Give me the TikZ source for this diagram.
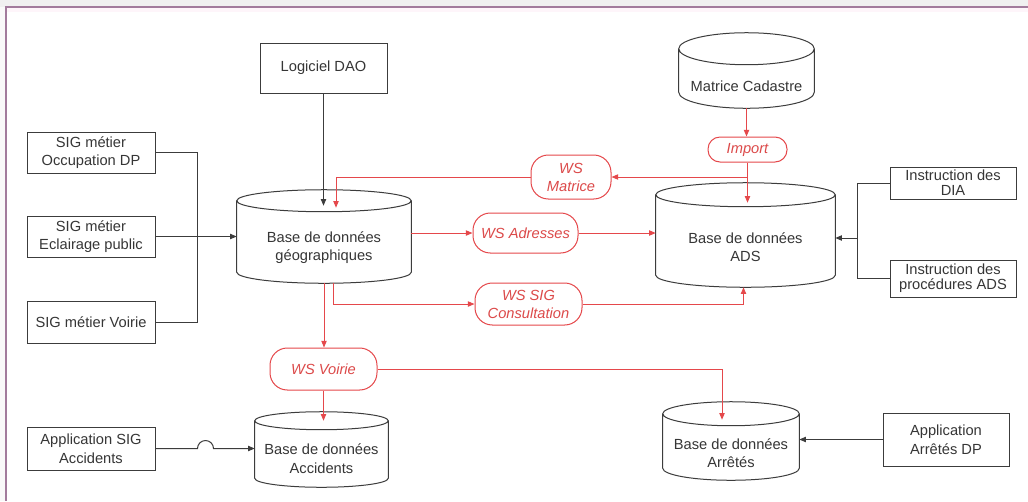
\documentclass[tikz,border=0pt]{standalone}
\usepackage{fontspec}
\setmainfont{Liberation Sans}
\usetikzlibrary{arrows.meta,calc}
\definecolor{lnred}{HTML}{E5484B}
\definecolor{txred}{HTML}{DC4A4A}
\definecolor{lngray}{HTML}{3C3C3C}
\definecolor{txgray}{HTML}{363636}
\definecolor{framecol}{HTML}{A27B9C}
\newcommand\dbout[2]{%
  \draw[bln] let \p1=(#1.north west), \p2=(#1.south east),
    \n1={(\x2-\x1)/2}, \n2={#2pt} in
    ({(\x1+\x2)/2},{\y1+\n2}) ellipse[x radius=\n1, y radius=\n2]
    (\x1,{\y1+\n2}) -- (\x1,{\y2+\n2})
    arc[start angle=180, end angle=360, x radius=\n1, y radius=\n2]
    -- (\x2,{\y1+\n2});}
\begin{document}
\begin{tikzpicture}[x=0.75pt,y=-0.75pt,
  font=\fontsize{11}{14}\selectfont,
  sz/.style 2 args={minimum width={#1*0.75pt}, minimum height={#2*0.75pt}},
  box/.style={draw=lngray, line width=0.75pt, fill=white, text=txgray, align=center, inner sep=0pt},
  dbn/.style={inner sep=0pt, text=txgray, align=center},
  ws/.style={draw=lnred, line width=0.75pt, rounded corners=13pt, text=txred,
    font=\fontsize{11}{13.5}\selectfont\itshape, align=center, inner sep=0pt, fill=white},
  bln/.style={draw=lngray, line width=0.75pt},
  rln/.style={draw=lnred, line width=0.75pt},
  tip/.style={-{Triangle[length=5pt,width=4pt]}},
]
\useasboundingbox (0,0) rectangle (1028,501);
\fill[white] (0,0) rectangle (1028,501);
\fill[gray!12] (0,0) rectangle (1028,7);
\fill[gray!5] (0,7) rectangle (6,501);
\fill[magenta!4] (6,7) rectangle (1028,12);
\draw[framecol, line width=1pt] (1028,7) -- (6,7) -- (6,501);

% rectangular boxes
\node[box, sz={127}{50}] (dao) at (323.5,68) {Logiciel DAO};
\node[box, sz={128}{41}] (occ) at (91,152.5) {SIG métier\\Occupation DP};
\node[box, sz={128}{41}] (ecl) at (91,236.5) {SIG métier\\Eclairage public};
\node[box, sz={128}{42}] (voi) at (91,322) {SIG métier Voirie};
\node[box, sz={128}{43}] (aac) at (91,448.5) {Application SIG\\Accidents};
\node[box, sz={126}{32}, font=\fontsize{11}{11.5}\selectfont] (dia) at (953,183) {Instruction des\\DIA};
\node[box, sz={126}{37}, font=\fontsize{11}{11.5}\selectfont] (proc) at (953,278.5) {Instruction des\\procédures ADS};
\node[box, sz={126}{53}] (aar) at (946,439.5) {Application\\Arrêtés DP};

% databases
\node[dbn, sz={174}{71}] (geo) at (324,247.5) {Base de données\\géographiques};
\node[dbn, sz={135}{43}] (mat) at (746.5,86.5) {Matrice Cadastre};
\node[dbn, sz={179}{80}] (ads) at (745.5,247) {Base de données\\ADS};
\node[dbn, sz={133}{57}] (acc) at (321.5,458.5) {Base de données\\Accidents};
\node[dbn, sz={136}{54}] (arr) at (731,453) {Base de données\\Arrêtés};
\dbout{geo}{8.25}
\dbout{mat}{12}
\dbout{ads}{9}
\dbout{acc}{6.75}
\dbout{arr}{9}

% web services
\node[ws, sz={79}{25}, rounded corners=9pt] (imp) at (747.5,149.5) {Import};
\node[ws, sz={80}{44}] (wsm) at (571,177) {WS\\Matrice};
\node[ws, sz={105}{40}] (wsa) at (525.5,233) {WS Adresses};
\node[ws, sz={107}{42}] (wss) at (528.5,304) {WS SIG\\Consultation};
\node[ws, sz={107}{42}] (wsv) at (323.5,369) {WS Voirie};

% black connectors
\draw[bln,tip] (dao.south) -- ($(dao.south |- geo.north)+(0,-6)$);
\coordinate (jl) at ($(ecl.east)+(42,0)$);
\draw[bln] (occ.east) -| (jl);
\draw[bln] (voi.east) -| (jl);
\draw[bln,tip] (ecl.east) -- (ecl.east -| geo.west);
\coordinate (jr) at (857,238);
\draw[bln] (dia.west) -| (jr);
\draw[bln] (proc.west) -| (jr);
\draw[bln,tip] (jr) -- (jr -| ads.east);
\draw[bln,tip] (aac.east) -- ++(42,0) arc[start angle=180,end angle=0,radius=6pt] -- (aac.east -| acc.west);
\draw[bln,tip] (aar.west) -- (aar.west -| arr.east);

% red connectors
\draw[rln,tip] (mat.south) -- (mat.south |- imp.north);
\draw[rln,tip] (imp.south) -- ($(imp.south |- ads.north)+(0,-4)$);
\coordinate (jm) at (imp.south |- wsm.east);
\draw[rln,tip] (jm) -- (wsm.east);
\draw[rln,tip] (wsm.west) -| ($(geo.north)+(12,-4)$);
\draw[rln,tip] (geo.east |- wsa.west) -- (wsa.west);
\draw[rln,tip] (wsa.east) -- (ads.west |- wsa.east);
\draw[rln,tip] ($(geo.south)+(9,0)$) |- (wss.west);
\draw[rln,tip] (wss.east) -| ($(ads.south)+(-2,0)$);
\draw[rln,tip] (geo.south) -- (geo.south |- wsv.north);
\draw[rln,tip] (wsv.south) -- ($(wsv.south |- acc.north)+(0,-9)$);
\draw[rln,tip] (wsv.east) -| ($(arr.north)+(-9,-6)$);
\end{tikzpicture}
\end{document}
